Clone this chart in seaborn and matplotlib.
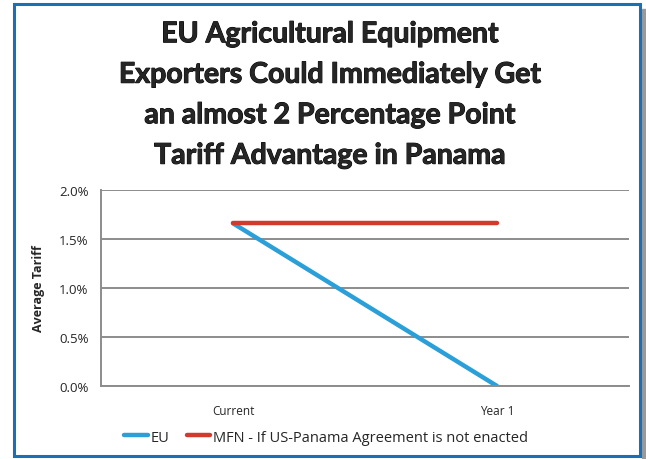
import pandas as pd
import matplotlib.pyplot as plt
import matplotlib.patheffects as pe
import seaborn as sns
from matplotlib.patches import Rectangle
from matplotlib.ticker import FixedLocator, PercentFormatter

periods = ['Current', 'Year 1']
eu = [1.66, 0.0]
mfn = [1.66, 1.66]
series_names = ['EU', 'MFN - If US-Panama Agreement is not enacted']

df = pd.DataFrame({
    'period': periods * 2,
    'tariff': eu + mfn,
    'series': [series_names[0]] * 2 + [series_names[1]] * 2,
})

sns.set_style('white')
plt.rcParams['font.family'] = ['Open Sans', 'DejaVu Sans']

fig = plt.figure(figsize=(6.46, 4.60), dpi=100)
ax = fig.add_axes([101 / 646, 1 - 387 / 460, 528 / 646, 196 / 460])

sns.lineplot(data=df, x='period', y='tariff', hue='series', ax=ax,
             palette={series_names[0]: '#2b9fd8', series_names[1]: '#d23a2c'},
             linewidth=3.2, legend=False, sort=False)
for ln in ax.lines:
    ln.set_solid_capstyle('round')

ax.set_xlim(-0.5, 1.5)
ax.set_ylim(0, 2.0)
ax.set_yticks([0, 0.5, 1.0, 1.5, 2.0])
ax.yaxis.set_major_formatter(PercentFormatter(decimals=1))
ax.yaxis.grid(True, color='#8c8c8c', linewidth=1.4)
ax.xaxis.set_minor_locator(FixedLocator([0.5, 1.5]))
ax.tick_params(axis='x', which='major', length=0, pad=13, labelsize=8.5)
ax.tick_params(axis='x', which='minor', length=5, color='#8c8c8c', width=1.2)
ax.tick_params(axis='y', length=5, color='#8c8c8c', width=1.4, labelsize=9.5, pad=4)
for s in ['top', 'right']:
    ax.spines[s].set_visible(False)
for s in ['left', 'bottom']:
    ax.spines[s].set_color('#8c8c8c')
    ax.spines[s].set_linewidth(1.4)
ax.set_xlabel('')
ax.set_ylabel('Average Tariff', fontsize=9, fontweight='bold', labelpad=10)

fig.text(0.511, 1 - 96 / 460,
         'EU Agricultural Equipment\nExporters Could Immediately Get\n'
         'an almost 2 Percentage Point\nTariff Advantage in Panama',
         ha='center', va='center', fontsize=20.5, fontweight='bold',
         linespacing=1.69, family=['Lato', 'DejaVu Sans'],
         path_effects=[pe.withStroke(linewidth=0.7, foreground='black')])

handles = [plt.Line2D([], [], color='#2b9fd8', linewidth=3.2),
           plt.Line2D([], [], color='#d23a2c', linewidth=3.2)]
fig.legend(handles, series_names, loc='center', bbox_to_anchor=(0.505, 1 - 438 / 460),
           ncol=2, frameon=False, fontsize=10.5, handlelength=1.6, handletextpad=0.2,
           columnspacing=1.2)

# frame with shadow
fig.patches.append(Rectangle((642 / 646, 0.0), 4 / 646, 1 - 10 / 460,
                             transform=fig.transFigure, color='#9a9a9a', zorder=0))
fig.patches.append(Rectangle((14 / 646, 3 / 460), 626 / 646, 452 / 460,
                             transform=fig.transFigure, fill=False,
                             edgecolor='#1a6fb5', linewidth=2.2))

fig.savefig('out.png', dpi=100)
